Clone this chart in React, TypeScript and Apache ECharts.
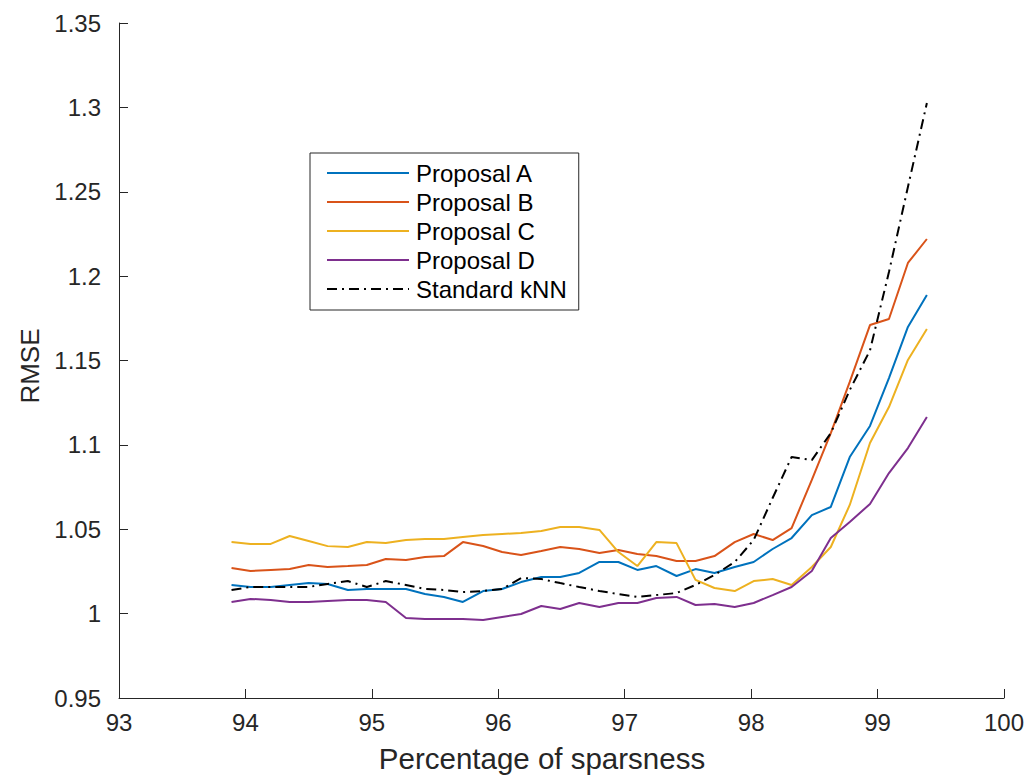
import React, { useEffect, useRef } from "react";
import * as echarts from "echarts";

const sparsity = [93.89, 94.04, 94.2, 94.35, 94.5, 94.65, 94.81, 94.96, 95.11, 95.27, 95.42, 95.57, 95.72, 95.88, 96.03, 96.18, 96.34, 96.49, 96.64, 96.8, 96.95, 97.1, 97.25, 97.41, 97.56, 97.71, 97.87, 98.02, 98.17, 98.32, 98.48, 98.63, 98.78, 98.94, 99.09, 99.24, 99.39];

const proposalA = [1.017, 1.0158, 1.0158, 1.017, 1.0181, 1.0176, 1.014, 1.0146, 1.0146, 1.0146, 1.0116, 1.0099, 1.0069, 1.0134, 1.0146, 1.0187, 1.0217, 1.0217, 1.0241, 1.0306, 1.0306, 1.0259, 1.0282, 1.0223, 1.0264, 1.0241, 1.0276, 1.0306, 1.0383, 1.0448, 1.0584, 1.0632, 1.0928, 1.1112, 1.1396, 1.1699, 1.1888];
const proposalB = [1.027, 1.0253, 1.0259, 1.0264, 1.0288, 1.0276, 1.0282, 1.0288, 1.0324, 1.0318, 1.0336, 1.0341, 1.0424, 1.0401, 1.0365, 1.0347, 1.0371, 1.0395, 1.0383, 1.0359, 1.0377, 1.0353, 1.0341, 1.0312, 1.0312, 1.0341, 1.0424, 1.0472, 1.0436, 1.0507, 1.0792, 1.107, 1.1373, 1.171, 1.1746, 1.2078, 1.222];
const proposalC = [1.0424, 1.0413, 1.0413, 1.046, 1.043, 1.04, 1.0395, 1.0424, 1.0418, 1.0436, 1.0442, 1.0442, 1.0454, 1.0466, 1.0472, 1.0478, 1.049, 1.0513, 1.0513, 1.0496, 1.0365, 1.0282, 1.0424, 1.0418, 1.02, 1.0152, 1.0134, 1.0193, 1.0205, 1.017, 1.0276, 1.0395, 1.0644, 1.1011, 1.1224, 1.1503, 1.1687];
const proposalD = [1.0069, 1.0087, 1.0081, 1.0069, 1.0069, 1.0075, 1.0081, 1.0081, 1.0069, 0.9974, 0.9968, 0.9968, 0.9968, 0.9962, 0.998, 0.9998, 1.0045, 1.0027, 1.0063, 1.0039, 1.0063, 1.0063, 1.0093, 1.0099, 1.0051, 1.0057, 1.0039, 1.0063, 1.011, 1.0158, 1.0253, 1.0448, 1.0543, 1.065, 1.0833, 1.0981, 1.1165];
const standardKnn = [1.014, 1.0158, 1.0158, 1.0158, 1.0158, 1.0176, 1.0193, 1.0158, 1.0193, 1.017, 1.0146, 1.014, 1.0128, 1.0134, 1.0146, 1.0211, 1.0205, 1.0181, 1.0158, 1.0134, 1.0116, 1.0099, 1.011, 1.0122, 1.017, 1.0229, 1.0306, 1.0436, 1.0685, 1.0928, 1.091, 1.107, 1.1325, 1.156, 1.2024, 1.2528, 1.3026];

const seriesNames = ["Proposal A", "Proposal B", "Proposal C", "Proposal D", "Standard kNN"];
const seriesValues = [proposalA, proposalB, proposalC, proposalD, standardKnn];
const seriesColors = ["#0072BD", "#D95319", "#EDB120", "#7E2F8E", "#000000"];

const xTitle = "Percentage of sparsness";
const yTitle = "RMSE";

const FONT = "'Liberation Sans', Arial, Helvetica, sans-serif";
const AXIS_COLOR = "#262626";

export default function App() {
  const ref = useRef<HTMLDivElement>(null);
  useEffect(() => {
    if (!ref.current) return;
    const chart = echarts.init(ref.current, null, { renderer: "svg" });
    const series = seriesNames.map((name, k) => ({
      name,
      type: "line",
      data: sparsity.map((x, i) => [x, seriesValues[k][i]]),
      symbol: "none",
      showSymbol: false,
      lineStyle: {
        color: seriesColors[k],
        width: 2,
        type: k === 4 ? [10, 5, 2, 5] : "solid",
      },
      itemStyle: { color: seriesColors[k] },
    }));
    chart.setOption({
      animation: false,
      backgroundColor: "#ffffff",
      textStyle: { fontFamily: FONT },
      grid: { left: 119, right: 25, top: 23, bottom: 82, containLabel: false },
      xAxis: {
        type: "value",
        min: 93,
        max: 100,
        interval: 1,
        axisLine: { show: true, onZero: false, lineStyle: { color: AXIS_COLOR, width: 1 } },
        axisTick: { show: true, inside: true, length: 9, lineStyle: { color: AXIS_COLOR } },
        axisLabel: { color: AXIS_COLOR, fontSize: 24, fontFamily: FONT, margin: 12 },
        splitLine: { show: false },
      },
      yAxis: {
        type: "value",
        min: 0.95,
        max: 1.35,
        interval: 0.05,
        axisLine: { show: true, onZero: false, lineStyle: { color: AXIS_COLOR, width: 1 } },
        axisTick: { show: true, inside: true, length: 9, lineStyle: { color: AXIS_COLOR } },
        axisLabel: {
          color: AXIS_COLOR,
          fontSize: 24,
          fontFamily: FONT,
          margin: 18,
          formatter: (v: number) => String(Math.round(v * 100) / 100),
        },
        splitLine: { show: false },
      },
      legend: {
        orient: "vertical",
        left: 310,
        top: 153,
        padding: [8, 12, 9, 16],
        itemGap: 5,
        itemWidth: 82,
        itemHeight: 14,
        backgroundColor: "#ffffff",
        borderColor: AXIS_COLOR,
        borderWidth: 1,
        borderRadius: 0,
        itemStyle: { opacity: 0, borderWidth: 0 },
        textStyle: { fontSize: 24, color: "#000000", fontFamily: FONT, padding: [0, 0, 0, 2] },
        data: seriesNames,
      },
      graphic: [
        {
          type: "text",
          x: 542,
          y: 758,
          style: {
            text: xTitle,
            fontSize: 29.5,
            fontFamily: FONT,
            fill: AXIS_COLOR,
            align: "center",
            verticalAlign: "middle",
          },
        },
        {
          type: "text",
          x: 30,
          y: 366,
          rotation: Math.PI / 2,
          style: {
            text: yTitle,
            fontSize: 26,
            fontFamily: FONT,
            fill: AXIS_COLOR,
            align: "center",
            verticalAlign: "middle",
          },
        },
      ],
      series,
    });
    return () => chart.dispose();
  }, []);
  return <div ref={ref} style={{ position: "fixed", left: 0, top: 0, width: 1029, height: 780 }} />;
}
